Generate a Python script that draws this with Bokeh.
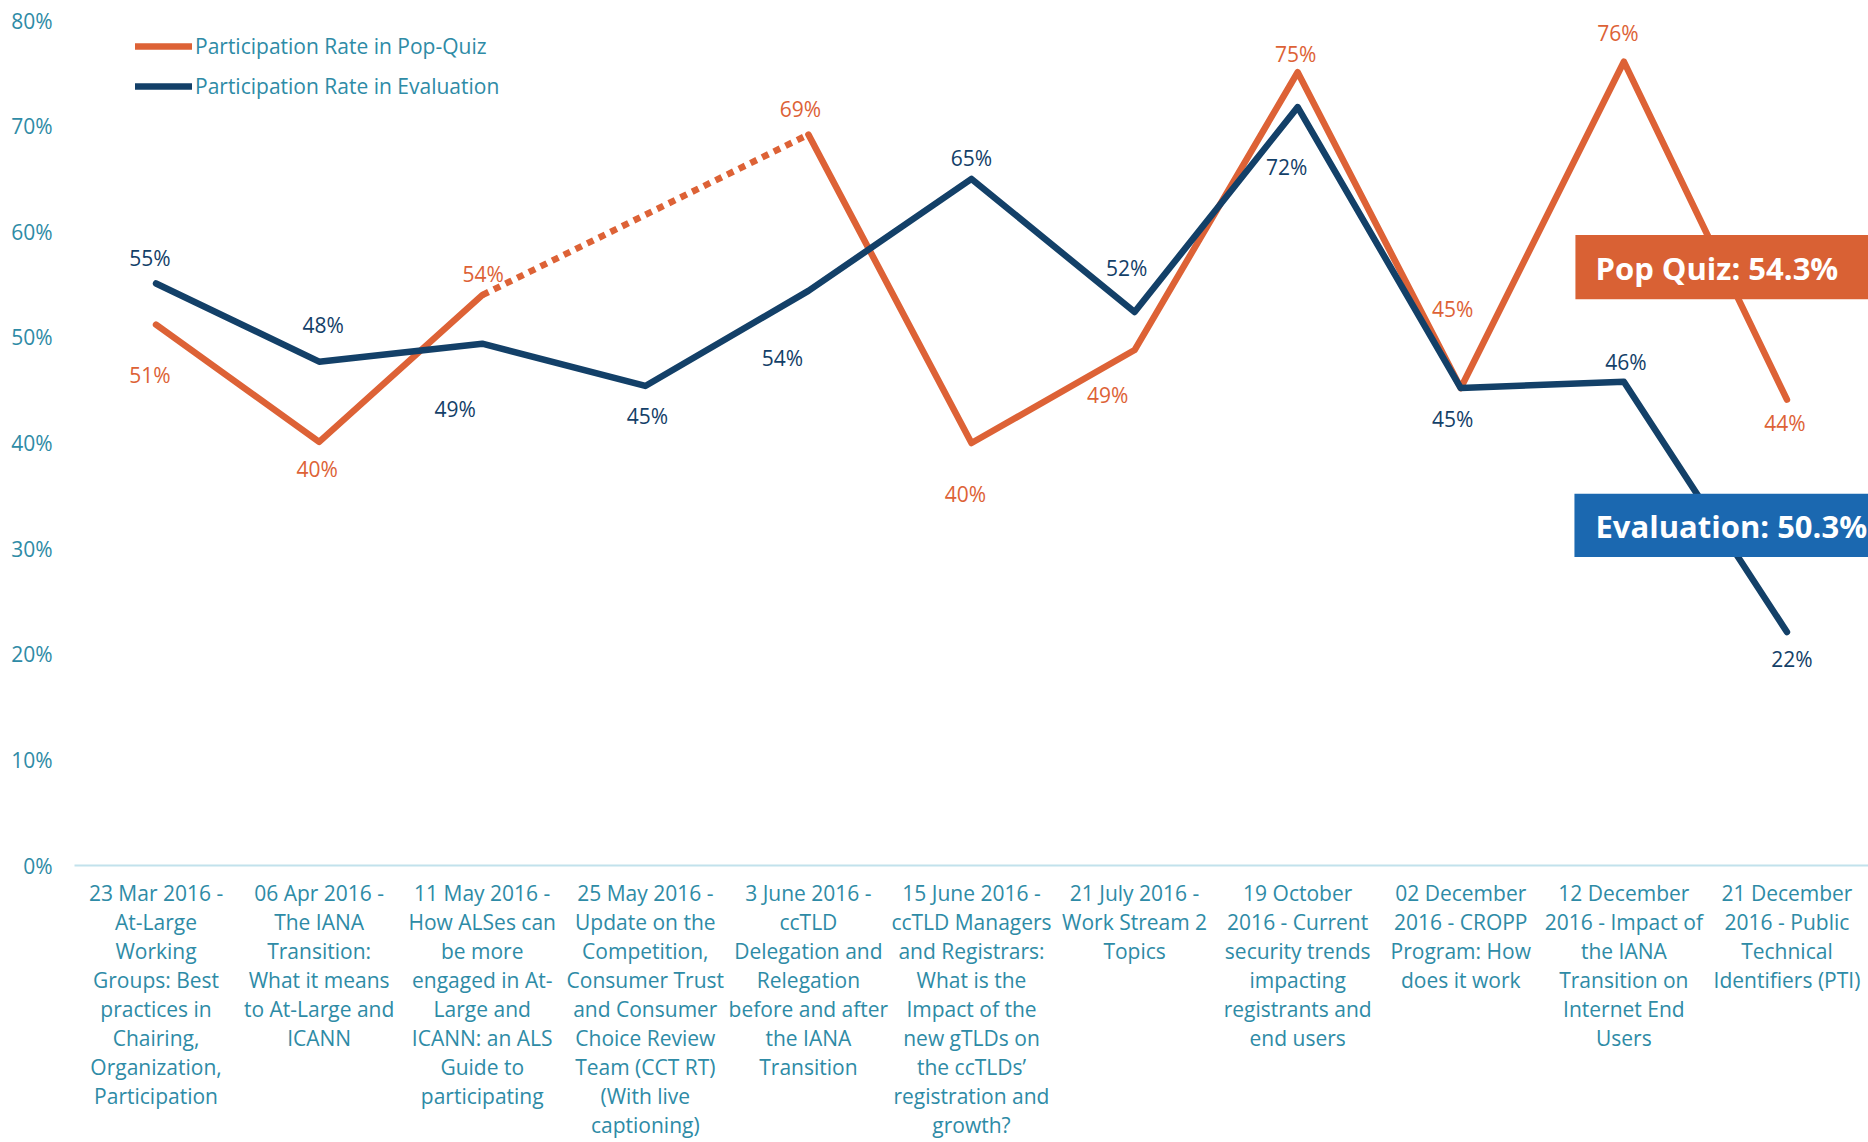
from bokeh.plotting import figure
from bokeh.models import (FactorRange, Range1d, FixedTicker, PrintfTickFormatter,
                          ColumnDataSource, Legend, LegendItem, BoxAnnotation, Label)
from bokeh.core.properties import value
from bokeh.embed import file_html
from bokeh.resources import INLINE
import math

# ---------------- data ----------------
categories = [
    "23 Mar 2016 -\nAt-Large\nWorking\nGroups: Best\npractices in\nChairing,\nOrganization,\nParticipation",
    "06 Apr 2016 -\nThe IANA\nTransition:\nWhat it means\nto At-Large and\nICANN",
    "11 May 2016 -\nHow ALSes can\nbe more\nengaged in At-\nLarge and\nICANN: an ALS\nGuide to\nparticipating",
    "25 May 2016 -\nUpdate on the\nCompetition,\nConsumer Trust\nand Consumer\nChoice Review\nTeam (CCT RT)\n(With live\ncaptioning)",
    "3 June 2016 -\nccTLD\nDelegation and\nRelegation\nbefore and after\nthe IANA\nTransition",
    "15 June 2016 -\nccTLD Managers\nand Registrars:\nWhat is the\nImpact of the\nnew gTLDs on\nthe ccTLDs\u2019\nregistration and\ngrowth?",
    "21 July 2016 -\nWork Stream 2\nTopics",
    "19 October\n2016 - Current\nsecurity trends\nimpacting\nregistrants and\nend users",
    "02 December\n2016 - CROPP\nProgram: How\ndoes it work",
    "12 December\n2016 - Impact of\nthe IANA\nTransition on\nInternet End\nUsers",
    "21 December\n2016 - Public\nTechnical\nIdentifiers (PTI)",
]
pop_quiz = [51.2, 40.1, 54.0, float("nan"), 69.2, 40.0, 48.8, 75.1, 45.2, 76.1, 44.1]
evaluation = [55.1, 47.7, 49.4, 45.4, 54.4, 65.0, 52.4, 71.8, 45.2, 45.8, 22.1]
pop_quiz_avg = 54.3
evaluation_avg = 50.3
y_ticks = [0, 10, 20, 30, 40, 50, 60, 70, 80]
series_names = ["Participation Rate in Pop-Quiz", "Participation Rate in Evaluation"]

# ---------------- styling ----------------
ORANGE = "#DD6236"
NAVY = "#134068"
TEAL = "#2E8BA6"
BOX_ORANGE = "#D96134"
BOX_BLUE = "#1B68B0"
FONT = "Open Sans"

# label offsets (screen px) for the value labels
pop_dx = [-6, -2, 1, 0, -8, -6, -27, -2, -8, -6, -2]
pop_dy = [50, 27, -21, 0, -26, 51, 45, -18, -79, -29, 23]
eval_dx = [-6, 4, -27, 2, -26, 0, -8, -11, -8, 2, 5]
eval_dy = [-26, -37, 65, 30, 67, -21, -44, 60, 31, -20, 27]

p = figure(width=1868, height=1142,
           x_range=FactorRange(*categories, range_padding=0, factor_padding=0),
           y_range=Range1d(0, 80),
           output_backend="svg", toolbar_location=None,
           min_border_left=74, min_border_right=0, min_border_top=20, min_border_bottom=0)
p.outline_line_color = None
p.grid.visible = False
p.background_fill_color = "white"

# y axis
p.yaxis.ticker = FixedTicker(ticks=y_ticks)
p.yaxis.formatter = PrintfTickFormatter(format="%d%%")
p.yaxis.axis_line_color = None
p.yaxis.major_tick_line_color = None
p.yaxis.minor_tick_line_color = None
p.yaxis.major_tick_out = 0
p.yaxis.major_tick_in = 0
p.yaxis.major_label_standoff = 22
p.yaxis.major_label_text_font = FONT
p.yaxis.major_label_text_font_size = "21px"
p.yaxis.major_label_text_color = TEAL

# x axis
p.xaxis.axis_line_color = "#C2E2EC"
p.xaxis.axis_line_width = 2
p.xaxis.major_tick_line_color = None
p.xaxis.minor_tick_line_color = None
p.xaxis.major_tick_out = 0
p.xaxis.major_tick_in = 0
p.xaxis.major_label_standoff = 13
p.xaxis.major_label_text_font = FONT
p.xaxis.major_label_text_font_size = "21px"
p.xaxis.major_label_text_color = TEAL
p.xaxis.major_label_text_line_height = 1.04

# lines
pop_line = p.line(categories, pop_quiz, line_color=ORANGE, line_width=6.5,
                  line_cap="round", line_join="round")
# dotted connector across the missing value
p.line([categories[2], categories[4]], [pop_quiz[2], pop_quiz[4]], line_color=ORANGE,
       line_width=6.5, line_dash="7 6", line_cap="butt")
eval_line = p.line(categories, evaluation, line_color=NAVY, line_width=6.5,
                   line_cap="round", line_join="round")

# value labels
pop_src = ColumnDataSource(dict(
    x=[c for c, v in zip(categories, pop_quiz) if not math.isnan(v)],
    y=[v for v in pop_quiz if not math.isnan(v)],
    t=[f"{round(v)}%" for v in pop_quiz if not math.isnan(v)],
    dx=[d for d, v in zip(pop_dx, pop_quiz) if not math.isnan(v)],
    dy=[d for d, v in zip(pop_dy, pop_quiz) if not math.isnan(v)],
))
eval_src = ColumnDataSource(dict(
    x=categories, y=evaluation, t=[f"{round(v)}%" for v in evaluation],
    dx=eval_dx, dy=eval_dy,
))
p.text(x="x", y="y", text="t", x_offset="dx", y_offset="dy", source=pop_src,
       text_font=value(FONT), text_font_size="21px", text_color=ORANGE,
       text_align="center", text_baseline="middle")
p.text(x="x", y="y", text="t", x_offset="dx", y_offset="dy", source=eval_src,
       text_font=value(FONT), text_font_size="21px", text_color=NAVY,
       text_align="center", text_baseline="middle")

# average boxes
p.add_layout(BoxAnnotation(left=9.203, right=11, bottom=53.6, top=59.7,
                           fill_color=BOX_ORANGE, fill_alpha=1, line_color=None))
p.add_layout(BoxAnnotation(left=9.197, right=11, bottom=29.2, top=35.2,
                           fill_color=BOX_BLUE, fill_alpha=1, line_color=None))
p.add_layout(Label(x=9.326, y=56.6, text=f"Pop Quiz: {pop_quiz_avg}%",
                   text_font=FONT, text_font_style="bold", text_font_size="31px",
                   text_color="white", text_baseline="middle"))
p.add_layout(Label(x=9.326, y=32.1, text=f"Evaluation: {evaluation_avg}%",
                   text_font=FONT, text_font_style="bold", text_font_size="31px",
                   text_color="white", text_baseline="middle"))

# legend
legend = Legend(items=[LegendItem(label=series_names[0], renderers=[pop_line]),
                       LegendItem(label=series_names[1], renderers=[eval_line])],
                location=(61, 764), padding=0, margin=0, spacing=10,
                glyph_width=57, glyph_height=30, label_height=30, label_standoff=3,
                label_text_font=FONT, label_text_font_size="21px",
                label_text_color=TEAL, background_fill_alpha=0,
                border_line_color=None)
p.add_layout(legend)

open("out.html", "w").write(file_html(p, INLINE))
